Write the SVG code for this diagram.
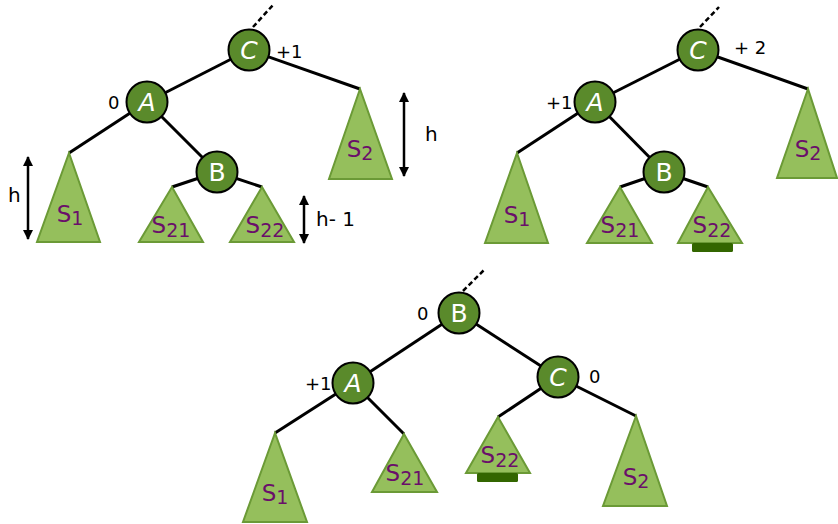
<svg xmlns="http://www.w3.org/2000/svg" width="838" height="524" viewBox="0 0 838 524">
<defs>
<style>
.edge{stroke:#000;stroke-width:3;fill:none}
.dash{stroke:#000;stroke-width:2.5;stroke-dasharray:5,3;fill:none}
.node circle{fill:#5a8a2b;stroke:#000;stroke-width:2}
.node text{fill:#fff;font-family:"DejaVu Sans",sans-serif;font-size:25px;font-style:italic;text-anchor:middle}
.node text.up{font-style:normal}
.tri polygon{fill:#95bf5c;stroke:#6b9a36;stroke-width:2;stroke-linejoin:miter}
.tri text{fill:#6a0f6a;font-family:"DejaVu Sans",sans-serif;font-size:23px;text-anchor:middle}
.sub{font-size:19px}
.bal{fill:#000;font-family:"DejaVu Sans",sans-serif;font-size:18px}
.meas{fill:#000;font-family:"DejaVu Sans",sans-serif;font-size:20px}
.harrow{stroke:#000;stroke-width:2.5;fill:none;marker-start:url(#ah);marker-end:url(#ah)}
.bar{fill:#336600}
</style>
<marker id="ah" viewBox="0 0 10 10" refX="9" refY="5" markerWidth="4.5" markerHeight="4" orient="auto-start-reverse" markerUnits="strokeWidth">
<path d="M0,0 L10,5 L0,10 z" fill="#000"/>
</marker>
</defs>

<g id="connectors">
<line class="dash" x1="253" y1="27" x2="273" y2="5"/>
<line class="edge" x1="249" y1="50" x2="147" y2="102"/>
<line class="edge" x1="249" y1="50" x2="360" y2="89"/>
<line class="edge" x1="147" y1="102" x2="69" y2="153"/>
<line class="edge" x1="147" y1="102" x2="217" y2="172"/>
<line class="edge" x1="217" y1="172" x2="172" y2="187"/>
<line class="edge" x1="217" y1="172" x2="262" y2="187"/>
<line class="dash" x1="700" y1="27" x2="719" y2="7"/>
<line class="edge" x1="698" y1="50" x2="595" y2="102"/>
<line class="edge" x1="698" y1="50" x2="808" y2="89"/>
<line class="edge" x1="595" y1="102" x2="517" y2="153"/>
<line class="edge" x1="595" y1="102" x2="664" y2="172"/>
<line class="edge" x1="664" y1="172" x2="620" y2="187"/>
<line class="edge" x1="664" y1="172" x2="708" y2="187"/>
<line class="dash" x1="463" y1="291" x2="484" y2="270"/>
<line class="edge" x1="459" y1="313" x2="353" y2="383"/>
<line class="edge" x1="459" y1="313" x2="558" y2="377"/>
<line class="edge" x1="353" y1="383" x2="275" y2="433"/>
<line class="edge" x1="353" y1="383" x2="404" y2="434"/>
<line class="edge" x1="558" y1="377" x2="498" y2="417"/>
<line class="edge" x1="558" y1="377" x2="636" y2="416"/>
</g>

<!-- Diagram 1 -->
<g id="d1-C" class="node"><circle cx="249" cy="50" r="20.5"/><text x="249" y="59">C</text></g>
<g id="d1-A" class="node"><circle cx="147" cy="102" r="20.5"/><text x="147" y="111">A</text></g>
<g id="d1-B" class="node"><circle cx="217" cy="172" r="20.5"/><text class="up" x="217" y="181">B</text></g>
<g id="d1-S1" class="tri"><polygon points="69,153 37,242 100,242"/><text x="70" y="222">S<tspan class="sub" dy="3">1</tspan></text></g>
<g id="d1-S21" class="tri"><polygon points="172,187 139,242 203,242"/><text x="171" y="233">S<tspan class="sub" dy="4">21</tspan></text></g>
<g id="d1-S22" class="tri"><polygon points="262,187 230,242 294,242"/><text x="265" y="233">S<tspan class="sub" dy="4">22</tspan></text></g>
<g id="d1-S2" class="tri"><polygon points="360,89 329,179 392,179"/><text x="360" y="157">S<tspan class="sub" dy="3">2</tspan></text></g>
<text class="bal" x="276" y="58">+1</text>
<text class="bal" x="108" y="109">0</text>
<line class="harrow" x1="28" y1="157" x2="28" y2="239"/>
<text class="meas" x="8" y="202">h</text>
<line class="harrow" x1="404" y1="93" x2="404" y2="176"/>
<text class="meas" x="425" y="141">h</text>
<line class="harrow" x1="304" y1="196" x2="304" y2="243"/>
<text class="meas" x="316" y="226">h- 1</text>

<!-- Diagram 2 -->
<g id="d2-C" class="node"><circle cx="698" cy="50" r="20.5"/><text x="698" y="59">C</text></g>
<g id="d2-A" class="node"><circle cx="595" cy="102" r="20.5"/><text x="595" y="111">A</text></g>
<g id="d2-B" class="node"><circle cx="664" cy="172" r="20.5"/><text class="up" x="664" y="181">B</text></g>
<g id="d2-S1" class="tri"><polygon points="517,153 485,243 548,243"/><text x="517" y="223">S<tspan class="sub" dy="3">1</tspan></text></g>
<g id="d2-S21" class="tri"><polygon points="620,187 587,243 652,243"/><text x="620" y="233">S<tspan class="sub" dy="4">21</tspan></text></g>
<g id="d2-S22" class="tri"><polygon points="708,187 678,243 742,243"/><rect class="bar" x="692" y="243" width="41" height="9" rx="1.5"/><text x="712" y="233">S<tspan class="sub" dy="4">22</tspan></text></g>
<g id="d2-S2" class="tri"><polygon points="808,89 777,178 837,178"/><text x="808" y="157">S<tspan class="sub" dy="3">2</tspan></text></g>
<text class="bal" x="734" y="54">+ 2</text>
<text class="bal" x="546" y="109">+1</text>

<!-- Diagram 3 -->
<g id="d3-B" class="node"><circle cx="459" cy="313" r="20.5"/><text class="up" x="459" y="322">B</text></g>
<g id="d3-A" class="node"><circle cx="353" cy="383" r="20.5"/><text x="353" y="392">A</text></g>
<g id="d3-C" class="node"><circle cx="558" cy="377" r="20.5"/><text x="558" y="386">C</text></g>
<g id="d3-S1" class="tri"><polygon points="275,433 243,522 307,522"/><text x="275" y="501">S<tspan class="sub" dy="3">1</tspan></text></g>
<g id="d3-S21" class="tri"><polygon points="404,434 372,492 437,492"/><text x="405" y="481">S<tspan class="sub" dy="4">21</tspan></text></g>
<g id="d3-S22" class="tri"><polygon points="498,417 466,473 530,473"/><rect class="bar" x="477" y="473" width="41" height="9" rx="1.5"/><text x="500" y="463">S<tspan class="sub" dy="4">22</tspan></text></g>
<g id="d3-S2" class="tri"><polygon points="636,416 603,506 667,506"/><text x="636" y="485">S<tspan class="sub" dy="3">2</tspan></text></g>
<text class="bal" x="417" y="320">0</text>
<text class="bal" x="305" y="390">+1</text>
<text class="bal" x="589" y="383">0</text>
</svg>
